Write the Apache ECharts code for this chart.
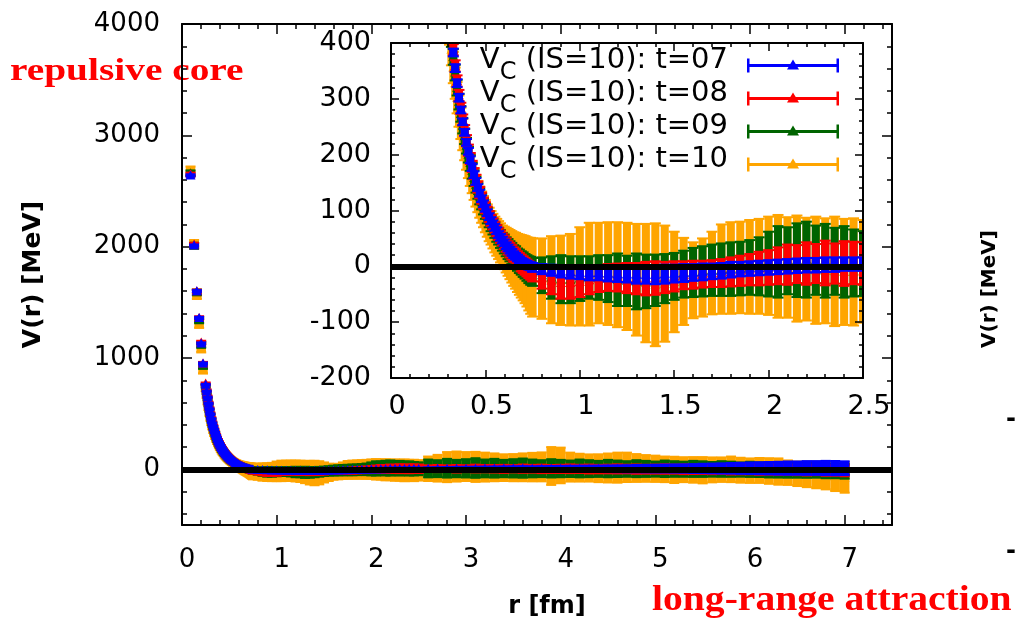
<!DOCTYPE html>
<html>
<head>
<meta charset="utf-8">
<script src="https://cdn.jsdelivr.net/npm/echarts@6/dist/echarts.min.js"></script>
<style>
  html, body { margin: 0; padding: 0; background: #fff; }
  #chart { width: 1017px; height: 623px; }
</style>
</head>
<body>
<div id="chart"></div>
<script>
// distances r [fm]
var rValues = [
  0.09, 0.128, 0.157, 0.181, 0.203, 0.222,
  0.25, 0.26, 0.27, 0.28, 0.29, 0.30, 0.31, 0.32, 0.33, 0.34,
  0.35, 0.36, 0.37, 0.38, 0.39, 0.40, 0.41, 0.42, 0.43, 0.44,
  0.45, 0.46, 0.47, 0.48, 0.49, 0.50, 0.51, 0.52, 0.53, 0.54,
  0.55, 0.56, 0.57, 0.58, 0.59, 0.60, 0.61, 0.62, 0.63, 0.64,
  0.65, 0.66, 0.67, 0.68, 0.69, 0.70, 0.71, 0.72, 0.73, 0.74,
  0.75, 0.80, 0.85, 0.90, 0.95, 1.00,
  1.05, 1.10, 1.15, 1.20, 1.25, 1.30, 1.35, 1.40, 1.45, 1.50,
  1.55, 1.60, 1.65, 1.70, 1.75, 1.80, 1.85, 1.90, 1.95, 2.00,
  2.05, 2.10, 2.15, 2.20, 2.25, 2.30, 2.35, 2.40, 2.45, 2.50,
  2.6, 2.7, 2.8, 2.9, 3.0,
  3.1, 3.2, 3.3, 3.4, 3.5, 3.6, 3.7, 3.8, 3.9, 4.0,
  4.1, 4.2, 4.3, 4.4, 4.5, 4.6, 4.7, 4.8, 4.9, 5.0,
  5.1, 5.2, 5.3, 5.4, 5.5, 5.6, 5.7, 5.8, 5.9, 6.0,
  6.1, 6.2, 6.3, 6.4, 6.5, 6.6, 6.7, 6.8, 6.9, 7.0
];

// t=07
var v07 = [
  2640, 2010, 1600, 1360, 1130, 950,
  760, 700, 645, 590, 540, 495, 452, 415, 383, 355,
  328, 302, 280, 259, 240, 222, 206, 191, 177, 164,
  152, 141, 131, 121, 112, 104, 96, 89, 82, 76,
  70, 64, 57, 52, 47, 42, 37, 33, 29, 25,
  21, 18, 15, 12, 9, 7, 5, 3, 1, 0,
  -2, -5, -7, -9, -10, -11,
  -12, -12, -13, -14, -14, -15, -15, -15, -14, -13,
  -12, -11, -10, -9, -8, -6, -5, -4, -3, -2,
  -1, 0, 1, 2, 2, 3, 3, 4, 4, 4,
  5, 5, 6, 6, 6,
  6, 7, 7, 7, 7, 7, 6, 6, 6, 6,
  6, 6, 5, 5, 5, 5, 5, 6, 6, 6,
  7, 7, 7, 7, 8, 8, 8, 9, 9, 10,
  10, 10, 10, 11, 11, 12, 12, 12, 11, 10
];
var e07 = [
  10, 10, 10, 10, 10, 10,
  8, 8, 8, 8, 8, 7, 7, 7, 7, 7,
  7, 7, 6, 6, 6, 6, 6, 6, 6, 6,
  6, 6, 6, 6, 6, 6, 6, 6, 6, 6,
  6, 6, 6, 6, 6, 6, 6, 6, 6, 6,
  6, 6, 6, 6, 6, 6, 6, 7, 7, 7,
  8, 9, 10, 11, 12, 12,
  13, 13, 14, 14, 15, 16, 16, 17, 17, 16,
  16, 15, 15, 14, 14, 14, 13, 13, 13, 13,
  13, 13, 13, 13, 13, 13, 13, 12, 12, 12,
  14, 15, 15, 16, 17,
  18, 18, 19, 20, 21, 22, 22, 23, 24, 25,
  26, 27, 28, 29, 30, 31, 32, 33, 34, 35,
  36, 37, 38, 40, 42, 44, 46, 48, 50, 52,
  54, 56, 58, 60, 60, 62, 62, 64, 64, 62
];

// t=08
var v08 = [
  2650, 2020, 1600, 1360, 1140, 950,
  770, 708, 652, 597, 547, 501, 458, 420, 388, 359,
  332, 306, 283, 262, 243, 225, 208, 193, 179, 166,
  154, 142, 132, 122, 113, 105, 97, 89, 82, 76,
  70, 64, 58, 53, 48, 43, 38, 33, 29, 25,
  21, 17, 13, 10, 6, 3, 0, -3, -6, -9,
  -12, -20, -26, -30, -30, -28,
  -25, -22, -20, -20, -21, -22, -22, -21, -20, -18,
  -16, -15, -14, -13, -12, -10, -8, -6, -4, -2,
  1, 3, 4, 5, 5, 6, 5, 5, 6, 5,
  6, 7, 6, 5, 6,
  7, 6, 5, 4, 5, 6, 5, 4, 3, 4,
  5, 4, 3, 2, 3, 4, 3, 2, 1, 2,
  3, 2, 1, 0, 1, 2, 1, 0, -1, 0,
  -2, -3, -2, -4, -5, -6, -5, -8, -10, -12
];
var e08 = [
  15, 15, 15, 15, 15, 15,
  10, 10, 10, 10, 10, 10, 10, 10, 10, 10,
  10, 10, 10, 10, 10, 10, 10, 10, 10, 10,
  10, 10, 10, 10, 10, 10, 10, 10, 10, 10,
  10, 10, 11, 11, 11, 12, 12, 12, 13, 13,
  13, 14, 14, 14, 15, 15, 15, 15, 15, 15,
  15, 20, 24, 28, 28, 27,
  25, 24, 24, 25, 27, 28, 30, 30, 28, 27,
  25, 25, 24, 24, 25, 26, 27, 28, 30, 31,
  33, 36, 34, 38, 35, 40, 36, 40, 38, 38,
  30, 32, 30, 34, 31,
  35, 33, 34, 36, 33, 37, 35, 38, 36, 37,
  39, 37, 40, 38, 39, 41, 39, 42, 40, 41,
  43, 41, 44, 42, 43, 45, 43, 46, 44, 45,
  47, 45, 48, 46, 47, 49, 47, 50, 48, 50
];

// t=09
var v09 = [
  2660, 2010, 1590, 1340, 1120, 930,
  750, 690, 634, 580, 530, 486, 444, 407, 375, 347,
  320, 295, 273, 252, 233, 216, 200, 185, 171, 158,
  146, 135, 125, 116, 107, 99, 91, 84, 77, 71,
  65, 59, 54, 49, 44, 40, 35, 31, 27, 23,
  19, 16, 12, 9, 6, 3, 0, -3, -6, -8,
  -10, -16, -20, -23, -24, -22,
  -20, -20, -22, -24, -26, -27, -27, -25, -22, -18,
  -14, -11, -9, -7, -6, -5, -4, -2, 0, 4,
  8, 10, 11, 12, 11, 10, 9, 8, 6, 5,
  8, 6, 10, 7, 9,
  12, 8, 10, 7, 9, 11, 8, 6, 9, 7,
  5, 8, 6, 4, 7, 5, 3, 6, 4, 2,
  5, 3, 1, 4, 2, 0, 3, 1, -2, 0,
  -3, -5, -4, -7, -9, -8, -11, -14, -16, -18
];
var e09 = [
  25, 25, 25, 25, 25, 25,
  14, 14, 14, 14, 14, 14, 14, 14, 14, 14,
  14, 14, 14, 14, 14, 14, 14, 14, 14, 14,
  14, 14, 14, 14, 14, 14, 14, 14, 14, 14,
  14, 15, 15, 16, 16, 17, 17, 18, 18, 19,
  19, 20, 20, 21, 21, 22, 22, 23, 24, 25,
  25, 32, 38, 43, 42, 40,
  38, 40, 42, 47, 45, 50, 48, 46, 44, 42,
  42, 44, 45, 46, 47, 48, 48, 49, 52, 58,
  64, 60, 66, 68, 62, 66, 60, 64, 60, 58,
  80, 76, 84, 78, 82,
  88, 80, 84, 78, 82, 86, 80, 76, 82, 78,
  74, 80, 76, 72, 78, 74, 70, 76, 72, 68,
  74, 70, 68, 72, 70, 66, 70, 68, 64, 68,
  66, 68, 70, 68, 66, 68, 64, 66, 64, 66
];

// t=10
var v10 = [
  2680, 2020, 1570, 1310, 1090, 900,
  730, 670, 612, 560, 510, 466, 425, 388, 356, 328,
  302, 278, 256, 236, 218, 201, 186, 172, 159, 147,
  135, 125, 115, 106, 98, 90, 82, 75, 69, 63,
  57, 52, 47, 42, 37, 33, 29, 25, 21, 17,
  13, 10, 6, 3, 0, -3, -6, -10, -14, -17,
  -20, -22, -24, -25, -24, -18,
  -14, -12, -13, -15, -18, -24, -30, -33, -31, -28,
  -27, -25, -20, -12, -5, -3, -2, -1, 0, 1,
  0, -2, -4, -5, -7, -8, -9, -10, -10, -9,
  5, 10, 20, 25, 25,
  22, 20, 18, 15, 15, 18, 20, 22, 30, 35,
  20, 15, 12, 10, 12, 15, 18, 12, 8, 5,
  0, -5, -3, -5, -8, -5, -3, 0, -8, -12,
  -10, -15, -20, -30, -40, -45, -50, -55, -65, -75
];
var e10 = [
  40, 40, 40, 40, 40, 40,
  28, 28, 28, 28, 28, 28, 28, 28, 28, 28,
  28, 28, 28, 28, 28, 28, 28, 28, 28, 28,
  28, 28, 28, 28, 28, 29, 29, 30, 30, 31,
  32, 33, 34, 35, 36, 38, 40, 42, 44, 46,
  48, 50, 52, 54, 56, 58, 60, 62, 65, 68,
  70, 72, 78, 80, 82, 88,
  92, 90, 92, 94, 96, 100, 106, 110, 104, 90,
  78, 68, 70, 74, 80, 82, 82, 84, 85, 88,
  92, 90, 95, 92, 96, 94, 98, 95, 96, 92,
  110, 120, 135, 135, 130,
  135, 130, 125, 120, 122, 125, 128, 130, 170, 160,
  130, 125, 122, 125, 130, 135, 132, 125, 120, 118,
  115, 118, 112, 115, 118, 112, 110, 115, 112, 110,
  112, 115, 118, 110, 110, 115, 120, 125, 130, 135
];

// tick positions of the big panel
var mainXMajor = [0, 1, 2, 3, 4, 5, 6, 7];
var mainXMinor = [0.2, 0.4, 0.6, 0.8, 1.2, 1.4, 1.6, 1.8, 2.2, 2.4, 2.6, 2.8, 3.2, 3.4, 3.6, 3.8,
  4.2, 4.4, 4.6, 4.8, 5.2, 5.4, 5.6, 5.8, 6.2, 6.4, 6.6, 6.8, 7.2, 7.4];
var mainYMajor = [0, 1000, 2000, 3000, 4000];
var mainYMinor = [-400, -200, 200, 400, 600, 800, 1200, 1400, 1600, 1800, 2200, 2400, 2600, 2800,
  3200, 3400, 3600, 3800];

var seriesNames = ['V_C (IS=10): t=07', 'V_C (IS=10): t=08', 'V_C (IS=10): t=09', 'V_C (IS=10): t=10'];
var seriesColors = ['#0000ff', '#ff0000', '#006400', '#ffa500'];
var seriesValues = [v07, v08, v09, v10];
var seriesErrors = [e07, e08, e09, e10];

var BLACK = '#000';
var FONT = 'DejaVu Sans';

function toPoints(v, e) {
  return rValues.map(function (r, i) { return [r, v[i], e[i]]; });
}

// error bar (with caps) + triangle marker
function errorBarRenderer(half, cap, barWidth) {
  return function (params, api) {
    var r = api.value(0), v = api.value(1), e = api.value(2);
    var hi = api.coord([r, v + e]);
    var lo = api.coord([r, v - e]);
    var p = api.coord([r, v]);
    var color = api.visual('color');
    function seg(x1, y1, x2, y2, w) {
      return { type: 'line', shape: { x1: x1, y1: y1, x2: x2, y2: y2 }, style: { stroke: color, lineWidth: w } };
    }
    return {
      type: 'group',
      children: [
        seg(hi[0], hi[1], lo[0], lo[1], barWidth),
        seg(hi[0] - cap, hi[1], hi[0] + cap, hi[1], 2),
        seg(lo[0] - cap, lo[1], lo[0] + cap, lo[1], 2),
        {
          type: 'polygon',
          shape: { points: [[p[0], p[1] - half], [p[0] + half, p[1] + half * 0.8], [p[0] - half, p[1] + half * 0.8]] },
          style: { fill: color }
        }
      ]
    };
  };
}

function tickStyle() { return { color: BLACK, width: 1.5 }; }

function mainXAxis(position, ticks, len, line, labels) {
  return {
    type: 'value', gridIndex: 0, position: position, min: 0, max: 7.5,
    name: labels ? 'r [fm]' : '', nameLocation: 'middle', nameGap: 70,
    nameTextStyle: { color: BLACK, fontFamily: FONT, fontWeight: 'bold', fontSize: 24, padding: [0, 0, 0, 20] },
    axisLine: { show: line, onZero: false, lineStyle: { color: BLACK, width: 2 } },
    axisTick: { show: true, inside: true, length: len, customValues: ticks, lineStyle: tickStyle() },
    axisLabel: labels ? { show: true, customValues: ticks, margin: 22, color: BLACK, fontFamily: FONT, fontSize: 26, padding: [0, 0, 0, 10] } : { show: false },
    splitLine: { show: false }
  };
}

function mainYAxis(position, ticks, len, line, labels) {
  return {
    type: 'value', gridIndex: 0, position: position, min: -500, max: 4000,
    name: labels ? 'V(r) [MeV]' : '', nameLocation: 'middle', nameGap: 136, nameRotate: 90,
    nameTextStyle: { color: BLACK, fontFamily: FONT, fontWeight: 'bold', fontSize: 25 },
    axisLine: { show: line, onZero: false, lineStyle: { color: BLACK, width: 2 } },
    axisTick: { show: true, inside: true, length: len, customValues: ticks, lineStyle: tickStyle() },
    axisLabel: labels ? {
      show: true, customValues: ticks, margin: 22, color: BLACK, fontFamily: FONT, fontSize: 26,
      formatter: function (v) { return String(v); }
    } : { show: false },
    splitLine: { show: false }
  };
}

function insetXAxis(position, labels) {
  return {
    type: 'value', gridIndex: 1, position: position, min: 0, max: 2.5, interval: 0.5, z: 16,
    axisLine: { show: true, onZero: false, lineStyle: { color: BLACK, width: 2 } },
    axisTick: { show: true, inside: true, length: 8, lineStyle: tickStyle() },
    minorTick: { show: true, splitNumber: 5, length: 4, lineStyle: tickStyle() },
    axisLabel: labels ? { show: true, margin: 15, color: BLACK, fontFamily: FONT, fontSize: 27, padding: [0, 0, 0, 12] } : { show: false },
    splitLine: { show: false }
  };
}

function insetYAxis(position, labels) {
  return {
    type: 'value', gridIndex: 1, position: position, min: -200, max: 400, interval: 100, z: 16,
    axisLine: { show: true, onZero: false, lineStyle: { color: BLACK, width: 2 } },
    axisTick: { show: true, inside: true, length: 8, lineStyle: tickStyle() },
    minorTick: { show: true, splitNumber: 5, length: 4, lineStyle: tickStyle() },
    axisLabel: labels ? { show: true, margin: 20, color: BLACK, fontFamily: FONT, fontSize: 27 } : { show: false },
    splitLine: { show: false }
  };
}

function zeroLine(z) {
  return {
    silent: true, symbol: 'none', z: z,
    label: { show: false },
    lineStyle: { color: BLACK, width: 6, type: 'solid' },
    emphasis: { disabled: true },
    data: [{ yAxis: 0 }]
  };
}

var series = [];
// orange first, blue on top
[3, 2, 1, 0].forEach(function (k, n) {
  series.push({
    name: seriesNames[k], type: 'custom', xAxisIndex: 0, yAxisIndex: 0, z: 2 + n,
    clip: true, silent: true, encode: { x: 0, y: 1 },
    itemStyle: { color: seriesColors[k] },
    renderItem: errorBarRenderer(5, 5, 9.5),
    data: toPoints(seriesValues[k], seriesErrors[k]),
    markLine: k === 0 ? zeroLine(6) : undefined
  });
});
[3, 2, 1, 0].forEach(function (k, n) {
  series.push({
    name: seriesNames[k], type: 'custom', xAxisIndex: 4, yAxisIndex: 4, z: 11 + n,
    clip: true, silent: true, encode: { x: 0, y: 1 },
    itemStyle: { color: seriesColors[k] },
    renderItem: errorBarRenderer(5, 5.5, 8),
    data: toPoints(seriesValues[k], seriesErrors[k]),
    markLine: k === 0 ? zeroLine(15) : undefined
  });
});

var option = {
  animation: false,
  backgroundColor: '#fff',
  grid: [
    { left: 182, top: 24, width: 710, height: 501, outerBoundsMode: 'none' },
    { left: 391, top: 43, width: 472, height: 335, show: true, backgroundColor: '#fff', borderWidth: 0, z: 10, outerBoundsMode: 'none' }
  ],
  xAxis: [
    mainXAxis('bottom', mainXMajor, 10, true, true),
    mainXAxis('bottom', mainXMinor, 5, false, false),
    mainXAxis('top', mainXMajor, 10, true, false),
    mainXAxis('top', mainXMinor, 5, false, false),
    insetXAxis('bottom', true),
    insetXAxis('top', false)
  ],
  yAxis: [
    mainYAxis('left', mainYMajor, 10, true, true),
    mainYAxis('left', mainYMinor, 5, false, false),
    mainYAxis('right', mainYMajor, 10, true, false),
    mainYAxis('right', mainYMinor, 5, false, false),
    insetYAxis('left', true),
    insetYAxis('right', false)
  ],
  legend: {
    orient: 'vertical', right: 178, top: 46, align: 'right', itemGap: -6, padding: 0,
    itemWidth: 92, itemHeight: 14, selectedMode: false, z: 20,
    icon: 'path://M0,5.5h92v3H0z M0,0h2.5v14H0z M89.5,0H92v14h-2.5z M46,1L52,11H40z',
    data: seriesNames,
    formatter: function (name) {
      return '{v|V}{c|C}{t|' + name.replace('V_C', '') + '}';
    },
    textStyle: {
      color: BLACK, fontFamily: FONT, fontSize: 29,
      rich: {
        v: { fontFamily: FONT, fontSize: 29, lineHeight: 29, padding: [0, 0, 10, 0], color: BLACK },
        c: { fontFamily: FONT, fontSize: 24, lineHeight: 24, padding: [14, 0, 0, 0], color: BLACK },
        t: { fontFamily: FONT, fontSize: 29, lineHeight: 29, padding: [0, 14, 10, 0], color: BLACK }
      }
    }
  },
  graphic: [
    {
      type: 'text', x: 10, y: 72, scaleX: 1.23,
      style: { text: 'repulsive core', fontFamily: 'Liberation Serif', fontWeight: 'bold', fontSize: 32, fill: '#ff0000', verticalAlign: 'middle' }
    },
    {
      type: 'text', x: 652, y: 601, scaleX: 1.10,
      style: { text: 'long-range attraction', fontFamily: 'Liberation Serif', fontWeight: 'bold', fontSize: 36, fill: '#ff0000', verticalAlign: 'middle' }
    },
    {
      type: 'text', x: 990, y: 289, rotation: Math.PI / 2,
      style: { text: 'V(r) [MeV]', fontFamily: FONT, fontWeight: 'bold', fontSize: 20, fill: BLACK, align: 'center', verticalAlign: 'middle' }
    },
    {
      type: 'text', x: 1011, y: 420,
      style: { text: '-', fontFamily: FONT, fontWeight: 'bold', fontSize: 24, fill: BLACK, align: 'center', verticalAlign: 'middle' }
    },
    {
      type: 'text', x: 1011, y: 552,
      style: { text: '-', fontFamily: FONT, fontWeight: 'bold', fontSize: 24, fill: BLACK, align: 'center', verticalAlign: 'middle' }
    }
  ],
  series: series
};

var chart = echarts.init(document.getElementById('chart'), null, { renderer: 'canvas' });
chart.setOption(option);
</script>
</body>
</html>
